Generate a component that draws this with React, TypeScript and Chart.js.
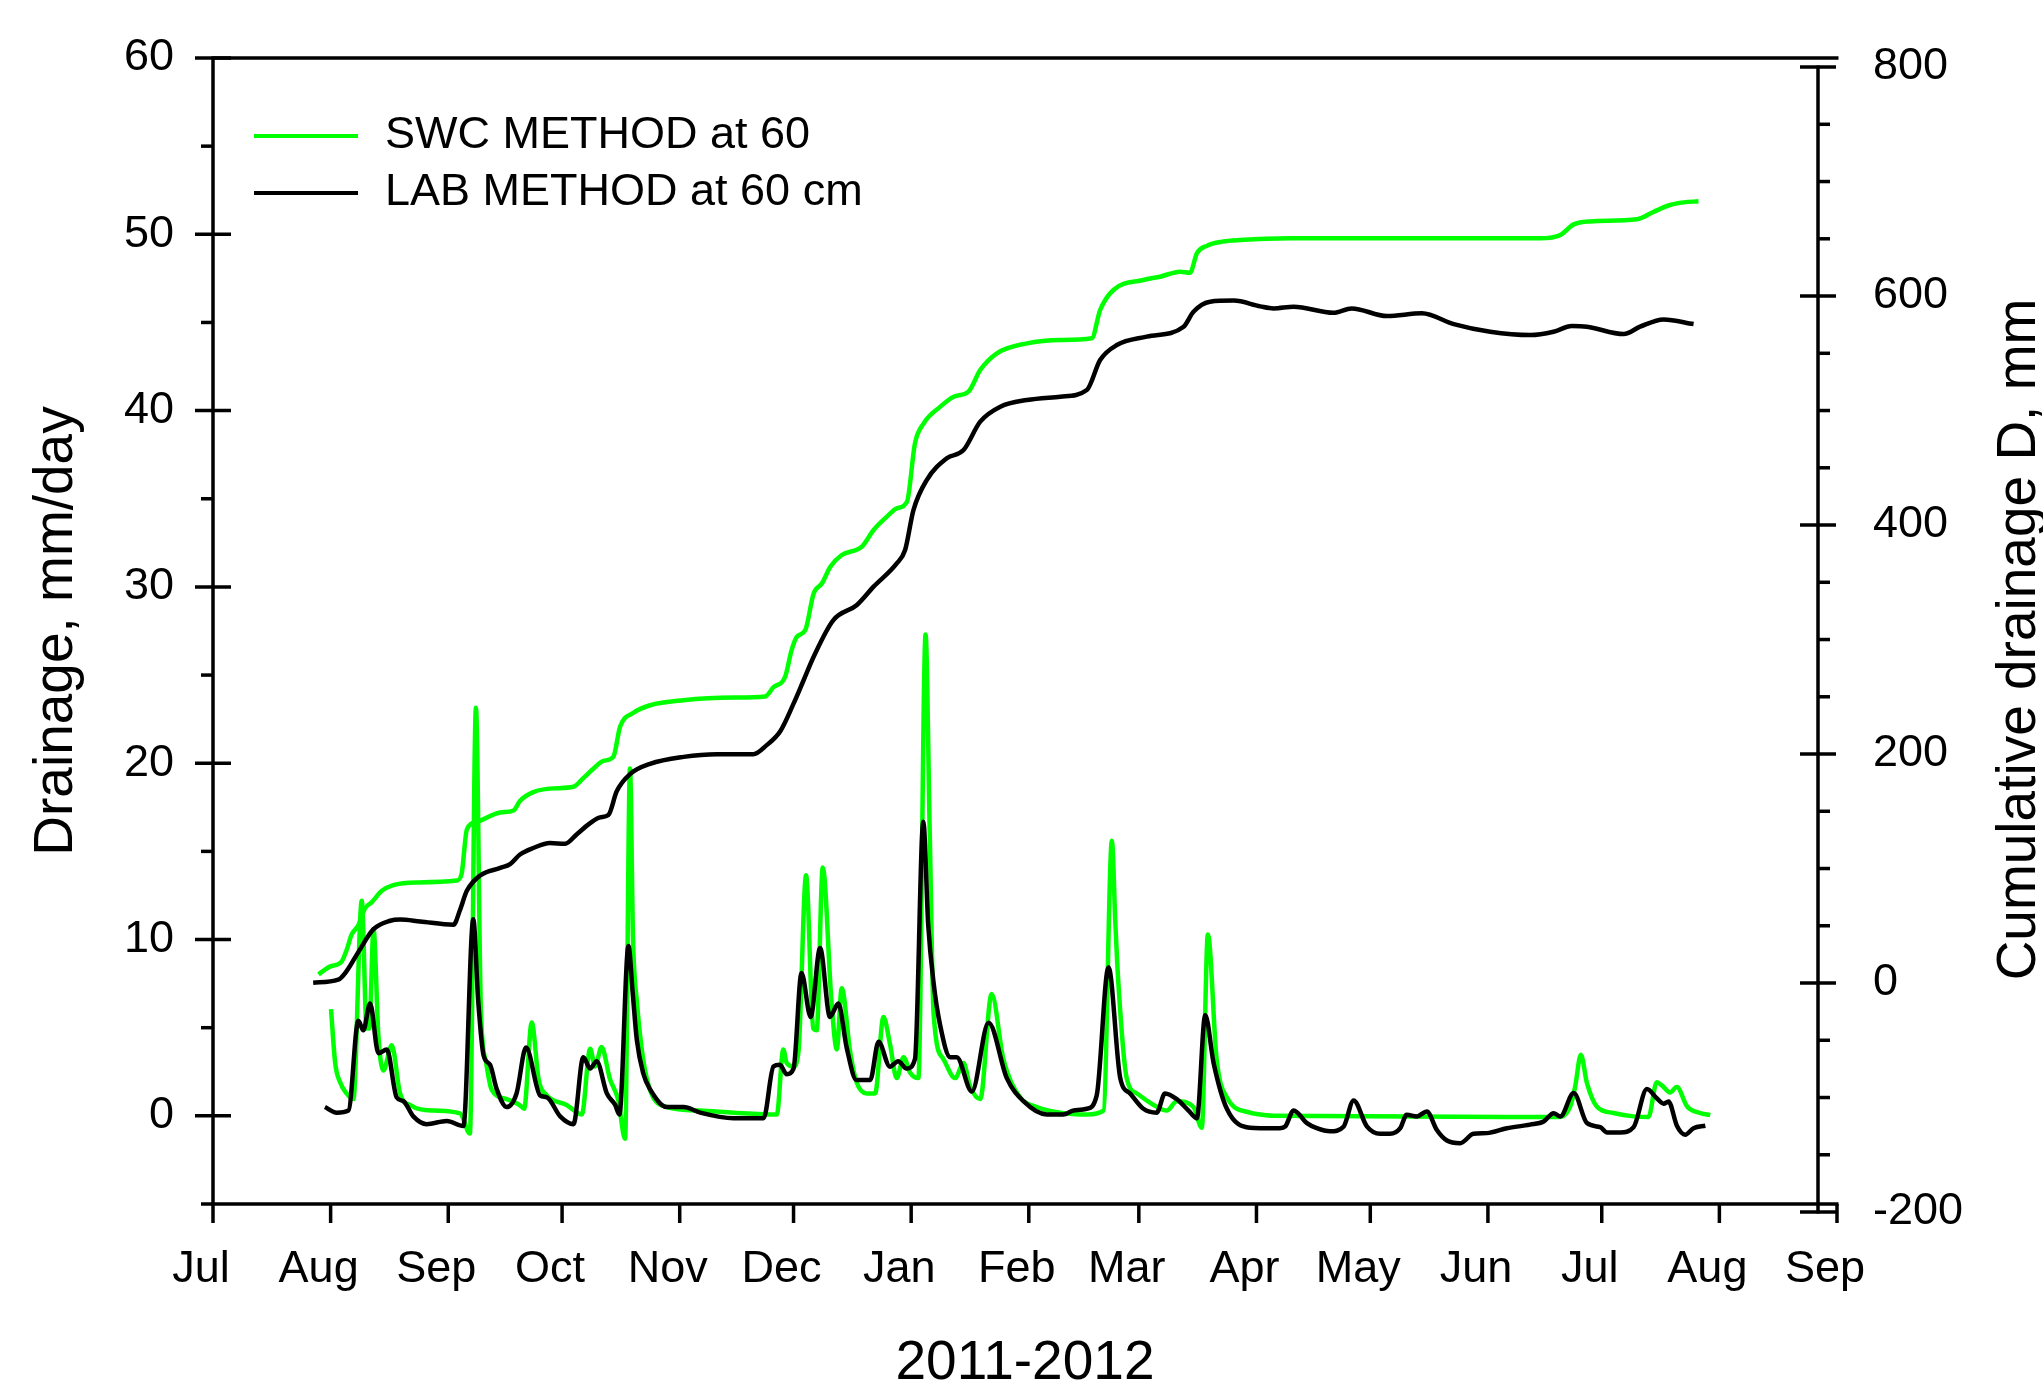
import React, { useEffect, useRef } from 'react';
import { Chart, registerables } from 'chart.js';

Chart.register(...registerables);

// Day numbers counted from 1 July 2011
const monthDays = [0, 31, 62, 92, 123, 153, 184, 215, 244, 275, 305, 336, 366, 397, 428];
const monthLabels = ['Jul', 'Aug', 'Sep', 'Oct', 'Nov', 'Dec', 'Jan', 'Feb', 'Mar', 'Apr', 'May', 'Jun', 'Jul', 'Aug', 'Sep'];
const leftTicks = [0, 10, 20, 30, 40, 50, 60];
const rightTicks = [-200, 0, 200, 400, 600, 800];

const seriesNames = ['SWC METHOD at 60', 'LAB METHOD at 60 cm'];

// SWC method, daily drainage (mm/day)
const swcDaily: [number, number][] = [
  [31.1, 6.05], [32.2, 3.0], [33.5, 1.9], [35.2, 1.27], [37, 0.95], [39.2, 12.2], [40.5, 4.96], [41.2, 4.96],
  [42.3, 10.6], [43.6, 4.5], [44.9, 2.57], [47.1, 4.0], [49.3, 1.27], [51.9, 0.62], [58.1, 0.3], [65.1, 0.14],
  [67.7, -1.0], [69.3, 23.15], [70.6, 6.0], [72, 3.0], [73.4, 1.5], [77.4, 0.95], [80.9, 0.6], [82, 0.4],
  [84, 5.3], [85.8, 2.1], [88, 1.16], [93.2, 0.62], [97.2, 0.08], [99.4, 3.8], [100.7, 2.8], [102.4, 3.9],
  [104.6, 2.1], [106.8, 0.9], [108.6, -1.3], [109.9, 19.7], [110.7, 10], [111.7, 6.5], [114.3, 2.14], [119.6, 0.5],
  [128.4, 0.3], [137.2, 0.18], [148.6, 0.08], [150.3, 3.77], [151.2, 3.0], [153, 2.8], [154.3, 3.66], [156.3, 13.64],
  [158.2, 4.96], [159.1, 4.85], [160.7, 14.08], [163, 6.48], [164.4, 3.77], [165.7, 7.24], [167.9, 3.66], [169.6, 1.92],
  [172.3, 1.27], [174.5, 1.27], [176.7, 5.61], [178.4, 4.09], [180.2, 2.14], [182, 3.33], [183.7, 2.46], [185.9, 2.14],
  [187.8, 27.3], [188.9, 16], [189.9, 5.83], [192.5, 3.22], [195.6, 2.14], [197.8, 3.0], [199.5, 1.7], [202.2, 0.95],
  [205.2, 6.91], [208.3, 3.22], [212.7, 1.05], [217.1, 0.5], [223.3, 0.18], [230.3, 0.08], [234.7, 0.3], [236.9, 15.6],
  [237.8, 11], [238.6, 7.56], [240.8, 2.14], [243.5, 1.27], [247.9, 0.62], [251.4, 0.3], [254, 0.83], [258.4, 0.5],
  [260.6, -0.68], [262.2, 10.28], [264.5, 3.22], [267.2, 1.05], [273.3, 0.18], [275.1, 0.1], [279.5, 0.0], [354.2, -0.07],
  [357.7, 0.53], [359, 1.67], [360.5, 3.46], [362.1, 1.86], [364.7, 0.53], [369.1, 0.16], [374.4, -0.03], [378.3, -0.07],
  [380.5, 1.9], [382, 1.7], [384, 1.33], [385.8, 1.63], [388.5, 0.53], [392, 0.16], [394.6, 0.04],
];

// LAB method, daily drainage (mm/day)
const labDaily: [number, number][] = [
  [29.5, 0.5], [32.6, 0.18], [35.7, 0.3], [38.3, 5.4], [39.6, 4.85], [41.4, 6.37], [43.6, 3.55], [45.8, 3.77],
  [48.4, 1.05], [50.2, 0.83], [52.8, -0.03], [56.3, -0.47], [61.6, -0.29], [66, -0.58], [68.6, 11.15], [69.9, 6.5],
  [71.3, 3.44], [73, 2.9], [74.8, 1.5], [77.4, 0.5], [80, 1.27], [82.5, 3.87], [86.2, 1.16], [88, 1.05],
  [91.5, -0.03], [95, -0.47], [97.6, 3.33], [99.4, 2.68], [101.1, 3.1], [103.8, 1.27], [106, 0.62], [107.1, 0.08],
  [109.5, 9.63], [110.6, 7.0], [111.7, 4.3], [113.4, 2.4], [115.2, 1.5], [119.6, 0.5], [124, 0.5], [128.4, 0.18],
  [137.2, -0.14], [145.1, -0.14], [147.7, 2.8], [149.4, 2.9], [151.2, 2.36], [153, 2.68], [155.1, 8.1], [157.5, 5.61],
  [160, 9.52], [162.6, 5.61], [164.8, 6.37], [167, 3.87], [169.6, 2.03], [173.2, 2.03], [175.4, 4.2], [178.4, 2.79],
  [180.6, 3.1], [182.8, 2.68], [185, 3.22], [187.2, 16.68], [188.5, 10.8], [189.9, 7.56], [191.6, 5.18], [194.3, 3.33],
  [196, 3.33], [200, 1.38], [204.4, 5.28], [209.2, 2.14], [213.6, 0.83], [219.7, 0.08], [224.1, 0.08], [226.8, 0.3],
  [230.3, 0.4], [232.9, 1.16], [236, 8.43], [239.1, 2.14], [241.7, 1.27], [245.2, 0.4], [248.7, 0.18], [250.9, 1.27],
  [254, 0.95], [257.1, 0.3], [259.3, -0.14], [261.5, 5.72], [263.7, 3.0], [267.2, 0.4], [273.3, -0.68], [276, -0.7],
  [281.2, -0.7], [282.6, -0.6], [284.8, 0.31], [288.3, -0.41], [290.9, -0.7], [294.4, -0.88], [298, -0.6], [300.6, 0.87],
  [304.1, -0.6], [307.6, -1.02], [310.2, -1.02], [312.9, -0.7], [314.6, 0.06], [317.3, -0.03], [319.9, 0.25], [322.5, -0.79],
  [325.2, -1.4], [328.7, -1.55], [332.2, -1.02], [335.7, -0.98], [341, -0.7], [347.1, -0.5], [350.7, -0.32], [353.3, 0.15],
  [355.1, -0.03], [358.6, 1.29], [362.1, -0.41], [365.6, -0.64], [367.4, -0.94], [370.9, -0.94], [374.4, -0.64], [377.9, 1.52],
  [380.5, 1.0], [382.3, 0.69], [383.6, 0.82], [385.8, -0.56], [388, -1.07], [390.2, -0.7], [393.3, -0.56],
];

// SWC method, cumulative drainage D (mm)
const swcCumulative: [number, number][] = [
  [27.8, 7.6], [30.8, 14.3], [33.9, 18.7], [35.2, 28.7], [36.5, 42], [38.3, 50.4], [40.1, 65.4], [41.8, 70.5],
  [44.5, 80.5], [47.5, 85.5], [53.7, 87.8], [64.2, 89.5], [65.5, 95], [66.9, 134], [69.5, 140.6], [75.7, 149],
  [79.2, 150.7], [80.9, 159], [84.4, 166.7], [89.7, 170], [95, 171.4], [97.6, 179], [100.3, 187.4], [102.9, 194],
  [105.5, 197.5], [107.3, 224], [110.8, 236], [115.2, 242.6], [124, 247], [137.2, 249.3], [145.5, 250.3], [147.7, 258.3],
  [150.8, 267.6], [152.5, 290.9], [153.9, 302.5], [156.1, 308.3], [158.3, 340.3], [160.5, 349.1], [162.7, 363.6], [165.7, 373.8],
  [171, 381.1], [174.1, 395.7], [177.6, 407.3], [180.2, 414.6], [182.9, 420.4], [185, 471.3], [187.3, 488.8], [191.7, 503.4],
  [195.2, 512.1], [199.1, 516.5], [202.2, 535.4], [206.6, 550], [214.5, 558.7], [223.3, 561.6], [231.6, 563.1], [233.8, 587.8],
  [237.3, 605.3], [245.2, 614], [249.6, 616.9], [254.9, 621.3], [257.5, 620.4], [259.3, 637.3], [262, 644], [266, 647.5],
  [270.7, 648.9], [283.9, 650.4], [349.8, 650.4], [355.1, 653.3], [358.6, 662.6], [363, 665.2], [375.3, 667], [379.7, 673.6],
  [384, 679.5], [387.6, 681.8], [391.5, 682.7],
];

// LAB method, cumulative drainage D (mm)
const labCumulative: [number, number][] = [
  [26.4, 0.3], [33, 2.9], [35.2, 10.3], [38.3, 27], [42.3, 47], [46.7, 54.4], [49.3, 55.4], [54.6, 53.8],
  [63.4, 51], [65.1, 63.8], [66.9, 80.5], [70.4, 93.9], [75.7, 100.5], [78.3, 103.9], [80.9, 112.2], [84.4, 117.9],
  [88.8, 122.3], [92.8, 121.6], [95.9, 130], [99.4, 139.6], [102, 144.7], [104.2, 146.7], [106.4, 167.4], [109.9, 182.4],
  [115.2, 191.4], [124, 197.5], [132.8, 199.8], [142.4, 199.8], [146, 208], [149.5, 219.9], [153, 244], [155.6, 264],
  [158.3, 285], [163.5, 317], [169.7, 330.2], [174.1, 346.2], [180.2, 366.5], [182.4, 378.2], [184.6, 413.1], [188.1, 439.3],
  [193.4, 458.3], [197.8, 465.5], [202.2, 490.3], [207.5, 503.4], [214.5, 509.2], [223.3, 512.1], [230.3, 517.9], [233.8, 544.1],
  [238.2, 557.2], [246.1, 564.5], [255.8, 573.2], [258.4, 586.3], [262.8, 595.1], [269, 596], [276, 591], [279.5, 589.2],
  [284.8, 590.7], [295.3, 585.4], [300.1, 589.2], [309.4, 582.5], [318.6, 584.9], [327, 575.5], [336.6, 568.8], [347.2, 565.9],
  [353.3, 568.8], [358.1, 573.8], [362.1, 573.2], [371.8, 566.8], [376.1, 573.2], [382.3, 579.6], [390.2, 575.5],
];

const GREEN = '#00ff00';
const BLACK = '#000000';
const FONT = '"Liberation Sans", Arial, Helvetica, sans-serif';

const toXY = (arr: [number, number][]) => arr.map(([x, y]) => ({ x, y }));

const framePlugin = {
  id: 'frame',
  afterDraw(chart: any) {
    const { ctx, chartArea: ca, scales } = chart;
    const xs = scales.x;
    const ys = scales.y;
    const y1 = scales.y1;
    ctx.save();
    ctx.strokeStyle = BLACK;
    ctx.lineWidth = 3.5;
    ctx.lineCap = 'butt';
    const line = (a: number, b: number, c: number, d: number) => {
      ctx.beginPath();
      ctx.moveTo(a, b);
      ctx.lineTo(c, d);
      ctx.stroke();
    };
    // frame
    line(ca.left - 1.5, ca.top, ca.right + 1.5, ca.top);
    line(ca.left, ca.top, ca.left, ca.bottom);
    line(ca.left - 1.5, ca.bottom, ca.right + 1.5, ca.bottom);
    // bottom ticks
    monthDays.forEach((d) => {
      const px = xs.getPixelForValue(d);
      line(px, ca.bottom, px, ca.bottom + 19);
    });
    // left ticks
    for (let v = -5; v <= 60; v += 5) {
      const py = ys.getPixelForValue(v);
      if (v % 10 === 0) line(ca.left - 18, py, ca.left + 18, py);
      else line(ca.left - 12, py, ca.left, py);
    }
    // right axis
    const rx = ca.right - 19;
    line(rx, y1.getPixelForValue(800) - 1.5, rx, y1.getPixelForValue(-200) + 1.5);
    for (let v = -200; v <= 800; v += 50) {
      const py = y1.getPixelForValue(v);
      if (v % 200 === 0) line(rx - 18, py, rx + 18, py);
      else line(rx, py, rx + 12, py);
    }
    // titles
    ctx.fillStyle = BLACK;
    ctx.font = `55px ${FONT}`;
    ctx.textAlign = 'center';
    ctx.textBaseline = 'middle';
    ctx.fillText('2011-2012', (ca.left + ca.right) / 2, 1364);
    ctx.save();
    ctx.translate(57, (ca.top + ca.bottom) / 2);
    ctx.rotate(-Math.PI / 2);
    ctx.fillText('Drainage, mm/day', 0, 0);
    ctx.restore();
    ctx.save();
    ctx.translate(2020, (y1.getPixelForValue(800) + y1.getPixelForValue(-200)) / 2);
    ctx.rotate(-Math.PI / 2);
    ctx.fillText('Cumulative drainage D, mm', 0, 0);
    ctx.restore();
    // legend
    ctx.font = `45px ${FONT}`;
    ctx.textAlign = 'left';
    const legendColors = [GREEN, BLACK];
    seriesNames.forEach((name, i) => {
      const ly = 136 + i * 57;
      ctx.strokeStyle = legendColors[i];
      ctx.lineWidth = 4;
      line(254, ly, 358, ly);
      ctx.fillText(name, 385, ly);
    });
    ctx.restore();
  },
};

export default function App() {
  const ref = useRef<HTMLCanvasElement | null>(null);
  useEffect(() => {
    if (!ref.current) return;
    const tickFont = { family: FONT, size: 45 };
    const lineStyle = { borderWidth: 4.5, pointRadius: 0, cubicInterpolationMode: 'monotone', fill: false };
    const chart = new Chart(ref.current, {
      type: 'line',
      data: {
        datasets: [
          { label: seriesNames[1], data: toXY(labDaily), yAxisID: 'y', borderColor: BLACK, ...lineStyle },
          { label: seriesNames[1] + ' cumulative', data: toXY(labCumulative), yAxisID: 'y1', borderColor: BLACK, ...lineStyle },
          { label: seriesNames[0], data: toXY(swcDaily), yAxisID: 'y', borderColor: GREEN, ...lineStyle },
          { label: seriesNames[0] + ' cumulative', data: toXY(swcCumulative), yAxisID: 'y1', borderColor: GREEN, ...lineStyle },
        ] as any,
      },
      options: {
        animation: false,
        responsive: false,
        devicePixelRatio: 1,
        layout: { padding: { top: 58, left: 0, right: 0, bottom: 0 } },
        plugins: { legend: { display: false }, tooltip: { enabled: false }, title: { display: false } },
        scales: {
          x: {
            type: 'linear',
            position: 'bottom',
            min: 0,
            max: 428,
            grid: { display: false, drawTicks: false },
            border: { display: false },
            afterBuildTicks: (s: any) => { s.ticks = monthDays.map((v) => ({ value: v })); },
            afterFit: (s: any) => { s.height = 188; s.paddingLeft = 0; s.paddingRight = 0; },
            ticks: {
              autoSkip: false,
              maxRotation: 0,
              minRotation: 0,
              padding: 39,
              labelOffset: -12,
              color: BLACK,
              font: tickFont,
              callback: (v: any) => { const i = monthDays.indexOf(Number(v)); return i >= 0 ? monthLabels[i] : ''; },
            },
          },
          y: {
            type: 'linear',
            position: 'left',
            min: -5,
            max: 60,
            bounds: 'data',
            grid: { display: false, drawTicks: false },
            border: { display: false },
            afterBuildTicks: (s: any) => { s.ticks = leftTicks.map((v) => ({ value: v })); },
            afterFit: (s: any) => { s.width = 213; s.paddingTop = 0; s.paddingBottom = 0; },
            ticks: { autoSkip: false, padding: 39, color: BLACK, font: tickFont },
          },
          y1: {
            type: 'linear',
            position: 'right',
            min: -193.0,
            max: 807.9,
            bounds: 'data',
            grid: { display: false, drawTicks: false },
            border: { display: false },
            afterBuildTicks: (s: any) => { s.ticks = rightTicks.map((v) => ({ value: v })); },
            afterFit: (s: any) => { s.width = 206; s.paddingTop = 0; s.paddingBottom = 0; },
            ticks: { autoSkip: false, padding: 36, color: BLACK, font: tickFont },
          },
        },
      } as any,
      plugins: [framePlugin],
    });
    return () => chart.destroy();
  }, []);
  return (
    <div style={{ position: 'absolute', left: 0, top: 0, width: 2043, height: 1392, background: '#fff' }}>
      <canvas ref={ref} width={2043} height={1392} style={{ display: 'block', width: 2043, height: 1392 }} />
    </div>
  );
}
